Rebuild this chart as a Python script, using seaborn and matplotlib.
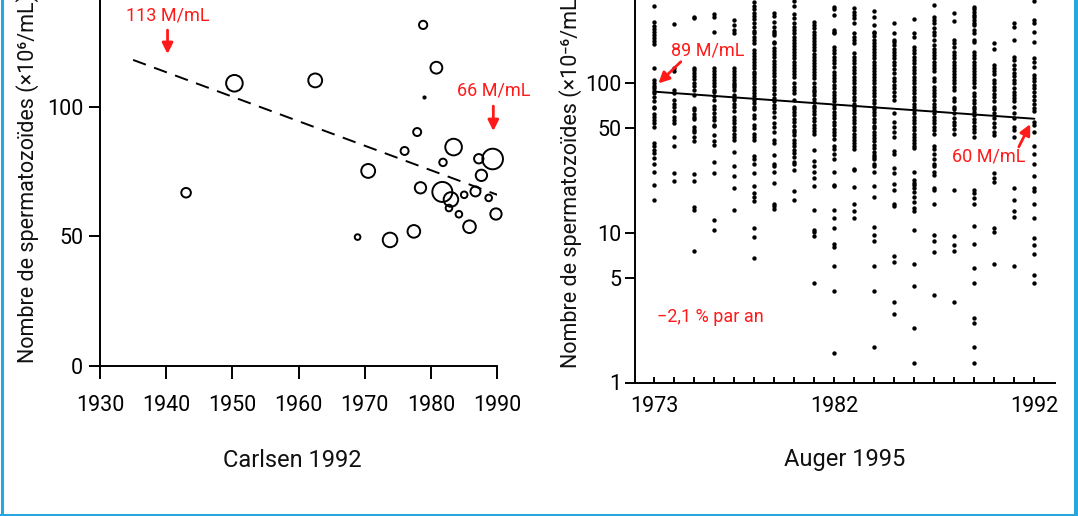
import pandas as pd
import matplotlib.pyplot as plt
import seaborn as sns
from matplotlib.lines import Line2D
from matplotlib.ticker import NullLocator

# ---- Carlsen 1992: one open circle per study (area ~ study weight) ----
carlsen_year = [1943.0, 1950.3, 1962.5, 1978.8, 1980.8, 1977.9, 1976.0, 1983.4, 1981.8,
                1987.2, 1989.3, 1970.5, 1987.6, 1978.4, 1981.7, 1986.7, 1985.0, 1983.0,
                1988.7, 1982.7, 1984.2, 1989.8, 1985.8, 1977.4, 1973.8, 1968.9]
carlsen_count = [66.8, 109.0, 110.1, 131.5, 115.0, 90.2, 82.9, 84.4, 78.5,
                 79.9, 79.8, 75.2, 73.5, 68.7, 67.1, 67.3, 66.0, 64.2,
                 64.8, 60.9, 58.5, 58.6, 53.7, 51.9, 48.6, 49.7]
carlsen_weight = [23, 69, 48, 17, 35, 16, 16, 69, 14,
                  22, 106, 48, 32, 32, 100, 25, 11, 53,
                  11, 11, 11, 32, 40, 40, 53, 8]
carlsen_dot_year = [1978.9]
carlsen_dot_count = [103.6]
carlsen_trend_year = [1935, 1990]
carlsen_trend_count = [118, 66]

# ---- Auger 1995: individual counts per year (log scale) ----
auger_years = list(range(1973, 1993))
c1973 = [329, 258, 242, 230, 219, 209, 200, 192, 182, 126, 105, 100, 96, 93, 89, 86, 81, 76,
         70, 68, 62, 60, 57, 54, 51, 40, 38, 36, 34, 31.5, 29, 25.6, 21, 16.7]
c1974 = [250, 126, 121, 91, 86, 77, 73, 69, 65, 60, 57, 54.5, 44, 38, 25, 22.3]
c1975 = [279, 272, 126, 122, 117, 112, 107, 101, 96, 91, 84, 68, 66, 62, 60, 57.5, 51, 49,
         47.5, 44, 41, 24.8, 22.2, 15, 14.3, 7.6]
c1976 = [291, 279, 221, 126, 121, 115, 111, 105, 101, 96, 91, 87, 82, 77, 71, 67, 63, 60,
         57, 53, 52, 45, 41, 39, 30, 25, 12.2, 10.4]
c1977 = [265, 245, 228, 216, 126, 121, 115, 110, 105, 101, 98, 94, 90, 84, 80, 77, 73, 70,
         65, 60, 57, 54.5, 51, 48.6, 46, 44, 42, 35, 28, 24, 20, 14.2]
c1978 = [352, 329, 313, 297, 283, 268, 255, 239, 225, 216, 205, 195, 185, 167, 160, 152, 145,
         138, 132, 126, 120, 115, 110, 105, 100, 95, 91, 86, 82, 78, 74, 70, 67, 61.5, 59, 53,
         50, 46, 44, 42, 32.5, 31, 29, 25.3, 20.5, 18.6, 17.4, 16.4, 10.8, 9.4, 6.8]
c1979 = [294, 283, 258, 239, 225, 216, 210, 190, 185, 172, 164, 156, 149, 142, 135, 129, 123,
         117, 112, 106, 101, 95, 90, 85, 80, 76, 72, 68, 64, 60, 54, 51, 47, 42, 40, 33, 29,
         28, 25.6, 21.6, 15.7, 15.1, 14.5]
c1980 = [355, 329, 291, 272, 255, 239, 228, 216, 205, 196, 187, 178, 170, 162, 154, 147, 140,
         133, 127, 121, 115, 110, 101, 95, 90, 86, 77, 70, 67, 64, 61, 58, 55, 52, 49, 47, 45,
         42, 40, 38, 36, 34, 32, 30, 29, 26.3, 19, 16.7]
c1981 = [258, 245, 233, 222, 212, 202, 192, 183, 175, 166, 158, 151, 144, 137, 131, 125, 119,
         113, 108, 100, 95, 91, 87, 83, 79, 75, 71, 68, 65, 62, 59, 56, 53, 50, 48, 46, 36,
         30.5, 28, 25.6, 23.2, 20.5, 14.3, 10.5, 10.2, 9.5, 4.66]
c1982 = [326, 313, 286, 228, 221, 216, 176, 167, 159, 151, 143, 136, 129, 120, 114, 108, 103,
         98, 93, 88, 84, 79.7, 75.7, 71.8, 68, 64.7, 61.4, 58.3, 55.3, 52.5, 49.8, 47.3, 44.9,
         42.6, 38.4, 36.5, 33.8, 31.4, 25.6, 21, 20.5, 14.3, 12.6, 10.8, 8.4, 8.1, 6.0, 4.1, 1.58]
c1983 = [318, 301, 286, 272, 253, 216, 205, 195, 185, 159, 151, 143, 136, 129, 123, 117, 111,
         105, 100, 95, 90, 86, 81, 77, 73, 70, 66, 63, 60, 57, 54, 51, 48.5, 46, 44, 42, 40,
         38, 36.5, 26.8, 26.2, 20.4, 15.7, 14, 12.6]
c1984 = [304, 279, 245, 221, 216, 206, 196, 187, 178, 170, 162, 154, 147, 140, 133, 127, 121,
         115, 110, 105, 100, 95, 90, 86, 82, 77, 74, 70, 67, 64, 61, 58, 55, 52, 50, 47.5, 45,
         43, 41, 39, 37, 35, 33, 32, 31, 29, 28, 25.6, 20.5, 17.4, 11, 9.7, 8.8, 6.0, 4.06, 1.72]
c1985 = [253, 216, 195, 188, 180, 171, 163, 155, 147, 140, 133, 124, 118, 108, 103, 98, 93,
         88, 82, 77, 63, 55.3, 51, 47.3, 44, 35.3, 33.6, 27.2, 25, 21.2, 19.5, 15.5, 15.1, 7.0,
         6.4, 3.47, 2.89]
c1986 = [268, 216, 205, 176, 167, 159, 151, 143, 136, 129, 123, 117, 111, 105, 100, 95, 90,
         86, 81, 77, 73, 70, 66, 63, 60, 57, 54, 51, 48.5, 46, 44, 42, 40, 38, 37, 25.6, 22.5,
         21.7, 21, 20, 18.8, 17.4, 16.2, 14.7, 14, 10.5, 6.2, 4.45, 2.3, 1.36]
c1987 = [333, 279, 265, 253, 233, 221, 210, 195, 180, 171, 163, 155, 147, 140, 133, 126, 121,
         108, 103, 95, 90, 86, 82, 77, 73, 70, 66, 63, 60, 57, 54, 51, 48.5, 46, 38.4, 36.5,
         33.8, 31.4, 29, 28, 25.6, 24.4, 20, 19.5, 15.7, 9.7, 8.9, 7.5, 3.85]
c1988 = [297, 262, 195, 185, 176, 163, 155, 147, 140, 133, 127, 121, 115, 110, 105, 100, 95,
         90, 80, 76, 70, 67, 63, 58.3, 55.3, 52.5, 49.8, 46, 19.3, 9.6, 8.3, 7.6, 3.45]
c1989 = [326, 313, 301, 286, 276, 265, 255, 245, 228, 216, 195, 190, 163, 155, 147, 140, 133,
         127, 121, 115, 110, 105, 100, 95, 86, 82, 78, 74, 70, 67, 64, 61, 58, 55, 52, 49.5,
         47, 44, 19.5, 18.6, 17, 15.7, 11.1, 8.4, 5.8, 4.66, 2.7, 2.5, 1.72, 1.36]
c1990 = [185, 171, 133, 126, 121, 115, 105, 100, 95, 90, 85, 81, 76, 70, 67, 63, 58.3, 54.5,
         51, 47.3, 45, 25, 23.2, 21.8, 10.8, 10.2, 6.17]
c1991 = [253, 239, 195, 151, 143, 133, 124, 118, 112, 105, 100, 93, 88, 84, 80, 76, 70, 63,
         58.3, 51, 48.6, 44, 20, 16.5, 14, 12.7, 6.0]
c1992 = [355, 265, 255, 221, 190, 147, 140, 129, 114, 108, 103, 98, 93, 88, 82, 77, 73, 68,
         65, 55.3, 52.5, 47.3, 38.4, 33.8, 29, 24, 20, 19, 15.5, 12.6, 9.2, 8.3, 7.2, 5.2, 4.6]
auger_columns = [c1973, c1974, c1975, c1976, c1977, c1978, c1979, c1980, c1981, c1982,
                 c1983, c1984, c1985, c1986, c1987, c1988, c1989, c1990, c1991, c1992]
auger_trend_year = [1973, 1992]
auger_trend_count = [88, 58]
auger_tick_labels = {1973: '1973', 1982: '1982', 1992: '1992'}

RED = '#ff1a1a'
BLUE = '#27a6df'
W, H = 1078, 516

sns.set_theme(style='ticks', rc={'axes.edgecolor': 'black', 'xtick.color': 'black',
                                 'ytick.color': 'black', 'text.color': '#111111',
                                 'axes.labelcolor': '#111111'})
plt.rcParams['font.family'] = ['Roboto', 'DejaVu Sans']

carlsen = pd.DataFrame({'year': carlsen_year, 'count': carlsen_count, 'weight': carlsen_weight})
auger = pd.DataFrame({
    'year': [y for y, col in zip(auger_years, auger_columns) for _ in col],
    'count': [v for col in auger_columns for v in col],
})

fig = plt.figure(figsize=(W / 100, H / 100), dpi=100)
ax1 = fig.add_axes([100 / W, (H - 366) / H, 397.3 / W, 366 / H])
ax2 = fig.add_axes([635 / W, (H - 382.5) / H, 420 / W, 382.5 / H])

# left panel
sns.lineplot(x=carlsen_trend_year, y=carlsen_trend_count, color='black', lw=1.4,
             linestyle=(0, (7, 4.5)), ax=ax1)
sns.scatterplot(data=carlsen, x='year', y='count', size='weight', sizes=(0, 228),
                size_norm=(0, 110), facecolor='none', edgecolor='black', linewidth=1.4,
                legend=False, clip_on=False, ax=ax1)
sns.scatterplot(x=carlsen_dot_year, y=carlsen_dot_count, color='black', s=9, linewidth=0, ax=ax1)
ax1.set_xlim(1930, 1990)
ax1.set_ylim(0, 141.1)
ax1.set_xticks(range(1930, 1991, 10))
ax1.set_yticks([0, 50, 100])
ax1.tick_params(axis='x', direction='out', length=9, width=1.4, pad=12, labelsize=15.5)
ax1.tick_params(axis='y', direction='out', length=8, width=1.4, pad=4, labelsize=15.5)
ax1.set_ylabel('')
ax1.set_xlabel('Carlsen 1992', fontsize=17)
ax1.xaxis.set_label_coords(0.483, -0.257)
ax1.xaxis.label.set_va('center')

ax1.annotate('113 M/mL', xy=(1940.3, 135.3), ha='center', va='center', color=RED, fontsize=13)
ax1.annotate('', xy=(1940.2, 120.3), xytext=(1940.2, 129.5),
             arrowprops=dict(arrowstyle='-|>', color=RED, lw=2, mutation_scale=16,
                             shrinkA=0, shrinkB=0))
ax1.annotate('66 M/mL', xy=(1989.5, 106.4), ha='center', va='center', color=RED, fontsize=13,
             annotation_clip=False)
ax1.annotate('', xy=(1989.4, 90.6), xytext=(1989.4, 100.2),
             arrowprops=dict(arrowstyle='-|>', color=RED, lw=2, mutation_scale=16,
                             shrinkA=0, shrinkB=0), annotation_clip=False)

# right panel
ax2.set_yscale('log')
sns.scatterplot(data=auger, x='year', y='count', color='black', s=10, linewidth=0, ax=ax2)
sns.lineplot(x=auger_trend_year, y=auger_trend_count, color='black', lw=1.4, ax=ax2)
ax2.set_xlim(1972.03, 1993.03)
ax2.set_ylim(1, 361)
ax2.set_xticks(auger_years)
ax2.set_xticklabels([auger_tick_labels.get(y, '') for y in auger_years])
ax2.set_yticks([1, 5, 10, 50, 100])
ax2.set_yticklabels(['1', '5', '10', '50', '100'])
ax2.yaxis.set_minor_locator(NullLocator())
ax2.tick_params(axis='x', direction='in', length=4.3, width=1.4, pad=10, labelsize=15.5)
ax2.tick_params(axis='y', direction='out', length=7.2, width=1.4, pad=2.5, labelsize=15.5)
ax2.set_ylabel('')
ax2.set_xlabel('Auger 1995', fontsize=17)
ax2.xaxis.set_label_coords(0.5, -0.2026)
ax2.xaxis.label.set_va('center')

ax2.annotate('89 M/mL', xy=(1975.67, 167), ha='center', va='center', color=RED, fontsize=13)
ax2.annotate('', xy=(1973.2, 100), xytext=(1974.32, 139.5),
             arrowprops=dict(arrowstyle='-|>', color=RED, lw=2, mutation_scale=16,
                             shrinkA=0, shrinkB=0))
ax2.annotate('60 M/mL', xy=(1989.7, 32.6), ha='center', va='center', color=RED, fontsize=13)
ax2.annotate('', xy=(1991.79, 53.4), xytext=(1991.22, 37.6),
             arrowprops=dict(arrowstyle='-|>', color=RED, lw=2, mutation_scale=16,
                             shrinkA=0, shrinkB=0))
ax2.annotate('\u22122,1 % par an', xy=(1973.12, 2.74), ha='left', va='center', color=RED,
             fontsize=13)

for ax in (ax1, ax2):
    sns.despine(ax=ax)
    for side in ('left', 'bottom'):
        ax.spines[side].set_linewidth(1.4)

# y labels (cut off at the top like the source)
fig.text(27.5 / W, 1 - 363 / H, 'Nombre de spermatozoïdes (×10\u2076/mL)', rotation=90,
         ha='center', va='bottom', fontsize=15.5)
fig.text(571 / W, 1 - 368 / H, 'Nombre de spermatozoïdes (×10\u207b\u2076/mL)', rotation=90,
         ha='center', va='bottom', fontsize=15.5)

# blue frame (left, bottom, right)
fig.add_artist(Line2D([1.5 / W, 1.5 / W], [0, 1], transform=fig.transFigure, color=BLUE, lw=2.2))
fig.add_artist(Line2D([0, 1], [1.5 / H, 1.5 / H], transform=fig.transFigure, color=BLUE, lw=2.2))
fig.add_artist(Line2D([1 - 2 / W, 1 - 2 / W], [0, 1], transform=fig.transFigure, color=BLUE, lw=2.9))

fig.savefig('out.png', dpi=100)
